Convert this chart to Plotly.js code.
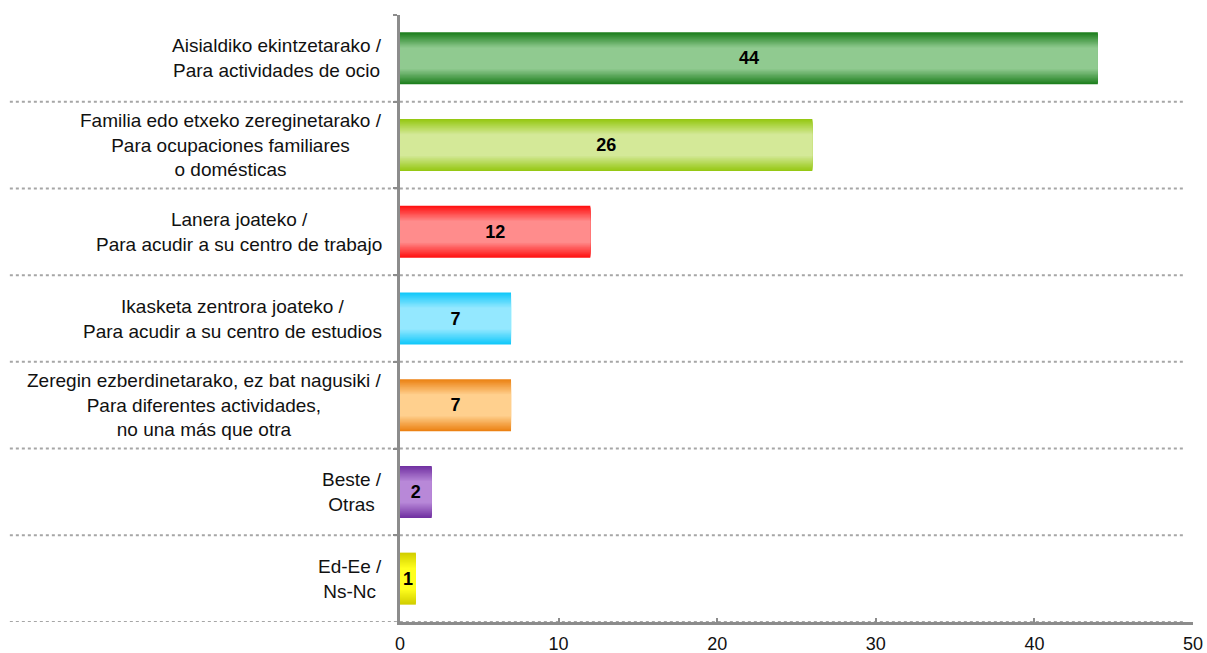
<!DOCTYPE html>
<html>
<head>
<meta charset="utf-8">
<script src="https://cdn.plot.ly/plotly-3.0.1.min.js"></script>
<style>
html,body{margin:0;padding:0;background:#fff;}
#chart{width:1207px;height:653px;}
</style>
</head>
<body>
<div id="chart"></div>
<script>
// ---- data ----
const categories = [
  "Aisialdiko ekintzetarako /<br>Para actividades de ocio",
  "Familia edo etxeko zereginetarako /<br>Para ocupaciones familiares<br>o domésticas",
  "Lanera joateko /<br>Para acudir a su centro de trabajo",
  "Ikasketa zentrora joateko /<br>Para acudir a su centro de estudios",
  "Zeregin ezberdinetarako, ez bat nagusiki /<br>Para diferentes actividades,<br>no una más que otra",
  "Beste /<br>Otras",
  "Ed-Ee /<br>Ns-Nc"
];
const values = [44, 26, 12, 7, 7, 2, 1];
const xTicks = [0, 10, 20, 30, 40, 50];

// ---- style ----
const darkColors  = ["#1e7f1e", "#96c814", "#ff1212", "#12c8fa", "#ec8214", "#7232a2", "#d2ce00"];
const lightColors = ["#90ca90", "#d4e998", "#ff8c8c", "#94e8ff", "#ffd08e", "#b888d8", "#ffff1e"];

function hexToRgb(h){h=h.replace('#','');return [parseInt(h.substr(0,2),16),parseInt(h.substr(2,2),16),parseInt(h.substr(4,2),16)];}
function mix(a,b,t){const A=hexToRgb(a),B=hexToRgb(b);return 'rgb('+A.map((v,i)=>Math.round(v+(B[i]-v)*t)).join(',')+')';}

const nLayers = 14;
const fullWidth = 0.6;
const traces = [];
for (let k = 0; k < nLayers; k++) {
  const t = k / (nLayers - 1);
  const w = fullWidth * (1 - 0.58 * t);
  const isLast = (k === nLayers - 1);
  traces.push({
    type: 'bar',
    orientation: 'h',
    x: values,
    y: categories,
    width: w,
    marker: {color: lightColors.map((lc, i) => mix(darkColors[i], lc, t)), line: {width: 0}},
    hoverinfo: 'skip',
    showlegend: false,
    text: isLast ? values.map(String) : undefined,
    textposition: isLast ? 'inside' : 'none',
    insidetextanchor: 'middle',
    constraintext: 'none',
    textangle: 0,
    cliponaxis: false,
    textfont: {family: 'Liberation Sans, Arial, sans-serif', size: 18, color: '#000', weight: 700}
  });
}

const shapes = [];
for (let i = 0; i < categories.length; i++) {
  shapes.push({
    type: 'line', xref: 'paper', yref: 'y',
    x0: -0.492, x1: 0.99, y0: i + 0.5, y1: i + 0.5,
    line: {color: '#a6a6a6', width: 2, dash: 'dot'},
    layer: 'below'
  });
}

const annotations = categories.map(c => ({
  xref: 'paper', yref: 'y', x: 0, y: c,
  xshift: -16, xanchor: 'right', yanchor: 'middle',
  text: c, showarrow: false, align: 'center',
  font: {family: 'Liberation Sans, Arial, sans-serif', size: 19, color: '#111'}
}));

const layout = {
  width: 1207, height: 653,
  margin: {l: 400, r: 14, t: 15, b: 31, pad: 0},
  paper_bgcolor: '#fff', plot_bgcolor: '#fff',
  barmode: 'overlay',
  showlegend: false,
  xaxis: {
    range: [0, 50], tickvals: xTicks, ticktext: xTicks.map(String),
    showgrid: false, zeroline: false,
    showline: true, linecolor: '#8c8c8c', linewidth: 3,
    ticks: 'inside', ticklen: 4, tickwidth: 2, tickcolor: '#8c8c8c',
    ticklabelstandoff: 3,
    tickfont: {family: 'Liberation Sans, Arial, sans-serif', size: 18, color: '#111'},
    fixedrange: true
  },
  yaxis: {
    type: 'category', categoryorder: 'array', categoryarray: categories,
    range: [6.5, -0.5], showticklabels: false,
    showgrid: false, zeroline: false,
    showline: true, linecolor: '#8c8c8c', linewidth: 3,
    ticks: 'outside', tickson: 'boundaries', ticklen: 4, tickwidth: 2, tickcolor: '#8c8c8c',
    fixedrange: true
  },
  shapes: shapes,
  annotations: annotations
};

Plotly.newPlot('chart', traces, layout, {displayModeBar: false, staticPlot: true});
</script>
</body>
</html>
